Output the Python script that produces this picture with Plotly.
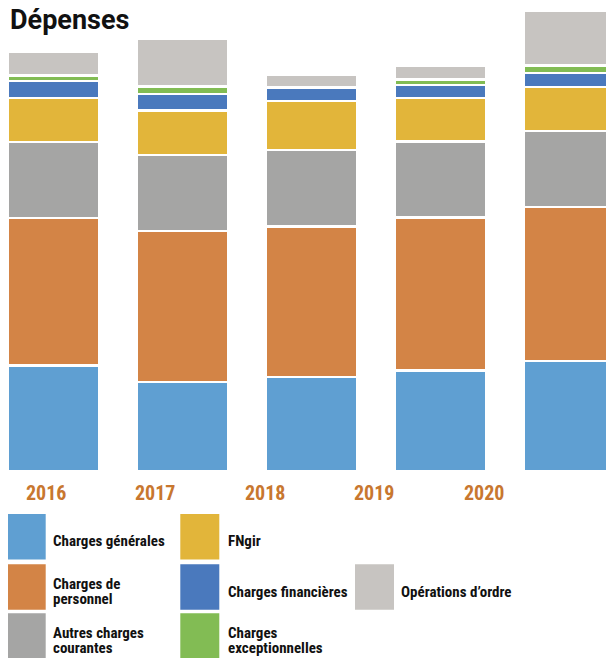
import plotly.graph_objects as go

# ---- data (arbitrary units) ----
years = ["2016", "2017", "2018", "2019", "2020"]
series_names = [
    "Charges générales",
    "Charges de<br>personnel",
    "Autres charges<br>courantes",
    "FNgir",
    "Charges financières",
    "Charges<br>exceptionnelles",
    "Opérations d’ordre",
]
charges_generales = [105.5, 89.0, 94.0, 100.7, 110.2]
charges_personnel = [147.7, 151.0, 150.5, 152.6, 153.8]
autres_charges = [76.0, 76.0, 76.5, 76.0, 76.0]
fngir = [44.0, 44.5, 49.2, 43.7, 44.2]
charges_financieres = [16.7, 16.5, 13.0, 13.2, 14.0]
charges_exceptionnelles = [5.8, 7.3, 0.4, 5.1, 7.5]
operations_ordre = [23.7, 47.9, 13.0, 13.9, 54.5]
colors = ["#5F9FD2", "#D38446", "#A5A5A4", "#E2B53A", "#4A79BD", "#82BC54", "#C7C4C1"]
all_series = [charges_generales, charges_personnel, autres_charges, fngir,
              charges_financieres, charges_exceptionnelles, operations_ordre]

# legend grid slots (column, row) for each series
legend_slots = [(0, 0), (0, 1), (0, 2), (1, 0), (1, 1), (1, 2), (2, 1)]

OFF = 8            # page body margin
W, H = 606, 650    # figure size (page is 614x658)
PLOT_H = 463       # plot area height in pixels (top margin 0)
Y_MAX = 463.0

fig = go.Figure()
for name, vals, col in zip(series_names, all_series, colors):
    fig.add_trace(go.Bar(
        x=list(range(len(years))), y=vals, name=name.replace("<br>", " "),
        marker=dict(color=col, line=dict(color="white", width=2.5)),
        width=0.705, showlegend=False, hoverinfo="name+y",
    ))

def px_x(p):  # page pixel -> paper
    return (p - OFF) / W

def px_y(p):
    return (PLOT_H - (p - OFF)) / PLOT_H

TEXT_FONT = "Roboto Condensed, Roboto, sans-serif"

shapes = []
annotations = []

# title
annotations.append(dict(
    text="<b>Dépenses</b>", x=px_x(8), y=px_y(2), xref="paper", yref="paper",
    xanchor="left", yanchor="top", showarrow=False,
    font=dict(family="Roboto, sans-serif", size=27, color="#111111"),
))

# year labels
for i, yr in enumerate(years):
    annotations.append(dict(
        text="<b>%s</b>" % yr, x=px_x(46 + i * 109.4), y=px_y(492.5),
        xref="paper", yref="paper", xanchor="center", yanchor="middle",
        showarrow=False, font=dict(family=TEXT_FONT, size=20, color="#C8772F"),
    ))

# custom legend
col_box_x = [6.7, 180.3, 355.0]
col_text_x = [51.0, 225.5, 399.0]
row_top = [514.0, 564.3, 613.3]
BOX_W, BOX_H = 39.0, 45.5
for name, col, (c, r) in zip(series_names, colors, legend_slots):
    x0 = col_box_x[c]
    y0 = row_top[r]
    shapes.append(dict(
        type="rect", xref="paper", yref="paper",
        x0=px_x(x0), x1=px_x(x0 + BOX_W), y0=px_y(y0 + BOX_H), y1=px_y(y0),
        fillcolor=col, line=dict(width=0), layer="above",
    ))
    lines = name.split("<br>")
    center = y0 + BOX_H / 2 + 4.5
    n = len(lines)
    for k, ln in enumerate(lines):
        yc = center + (k - (n - 1) / 2) * 15.0
        annotations.append(dict(
            text="<b>%s</b>" % ln, x=px_x(col_text_x[c]), y=px_y(yc),
            xref="paper", yref="paper", xanchor="left", yanchor="middle",
            showarrow=False, font=dict(family=TEXT_FONT, size=15, color="#111111"),
        ))

fig.update_layout(
    width=W, height=H,
    margin=dict(l=0, r=0, t=0, b=H - PLOT_H, pad=0),
    barmode="stack",
    bargap=0.295,
    plot_bgcolor="white", paper_bgcolor="white",
    xaxis=dict(range=[-45.5 / 129, (W - 45.5) / 129], showticklabels=False,
               showgrid=False, zeroline=False, showline=False, ticks="",
               fixedrange=True),
    yaxis=dict(range=[0, Y_MAX], showticklabels=False, showgrid=False,
               zeroline=False, showline=False, ticks="", fixedrange=True),
    shapes=shapes,
    annotations=annotations,
)

fig.write_html("out.html")
